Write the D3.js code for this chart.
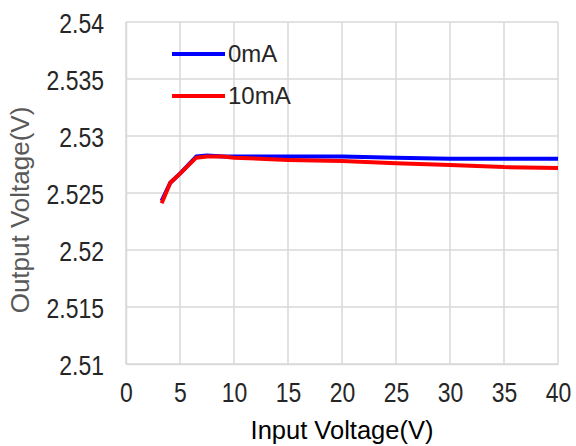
<!DOCTYPE html>
<html><head><meta charset="utf-8">
<script src="https://cdn.jsdelivr.net/npm/d3@7"></script>
<style>body{margin:0;background:#fff}svg{display:block}</style>
</head><body>
<svg id="c" width="576" height="446"></svg>
<script>
const xTicks = [0,5,10,15,20,25,30,35,40];
const yTicks = [2.51,2.515,2.52,2.525,2.53,2.535,2.54];
const seriesNames = ["0mA","10mA"];
const seriesColors = ["#0000ff","#ff0000"];
const xVin0 = [3.3,4.1,5,6.5,7.5,9,10,15,20,25,30,35,40];
const vout0 = [2.5243,2.5259,2.5267,2.5282,2.5283,2.5282,2.5282,2.5282,2.5282,2.5281,2.5280,2.5280,2.5280];
const xVin1 = [3.3,4.1,5,6.5,7.5,9,10,15,20,25,30,35,40];
const vout1 = [2.5241,2.5259,2.5267,2.5281,2.5282,2.5282,2.5281,2.5279,2.5278,2.5276,2.52745,2.52727,2.5272];

const svg = d3.select("#c");
const L=126,R=558,T=22,B=364;
const x = d3.scaleLinear().domain([0,40]).range([L,R]);
const y = d3.scaleLinear().domain([2.51,2.54]).range([B,T]);
const tickFont = "Liberation Sans, Arial, sans-serif";
const titleFont = "Liberation Sans, Arial, sans-serif";
const squeeze = 0.82;

// grid
svg.append("g").selectAll("line").data(xTicks).join("line")
  .attr("x1",d=>x(d)).attr("x2",d=>x(d)).attr("y1",T).attr("y2",B)
  .attr("stroke","#d9d9d9").attr("stroke-width",1.5);
svg.append("g").selectAll("line").data(yTicks).join("line")
  .attr("x1",L).attr("x2",R).attr("y1",d=>y(d)).attr("y2",d=>y(d))
  .attr("stroke","#d9d9d9").attr("stroke-width",1.5);

// axes
const yAxis = svg.append("g").attr("transform",`translate(${L},0)`)
  .call(d3.axisLeft(y).tickValues(yTicks).tickSize(0).tickPadding(22).tickFormat(d=>String(+d.toFixed(3))));
yAxis.select(".domain").attr("stroke","#d9d9d9").attr("stroke-width",1.5);
yAxis.selectAll(".tick text").attr("font-family",tickFont).attr("font-size",28).attr("fill","#262626")
  .attr("x",0).attr("dy","0.37em").attr("transform",`translate(-22,0) scale(${squeeze},1)`);
const xAxis = svg.append("g").attr("transform",`translate(0,${B})`)
  .call(d3.axisBottom(x).tickValues(xTicks).tickSize(0).tickPadding(18.5).tickFormat(d3.format("d")));
xAxis.select(".domain").attr("stroke","#d9d9d9").attr("stroke-width",1.5);
xAxis.selectAll(".tick text").attr("font-family",tickFont).attr("font-size",28).attr("fill","#262626")
  .attr("transform",`scale(${squeeze},1)`);

// titles
svg.append("text").attr("x",342).attr("y",439).attr("text-anchor","middle")
  .attr("font-family",titleFont).attr("font-size",25.5).attr("fill","#000").text("Input Voltage(V)");
svg.append("text").attr("transform","translate(29,210) rotate(-90)").attr("text-anchor","middle")
  .attr("font-family",titleFont).attr("font-size",26).attr("fill","#595959").text("Output Voltage(V)");

// lines
const data = [xVin0.map((v,i)=>[v,vout0[i]]), xVin1.map((v,i)=>[v,vout1[i]])];
const line = d3.line().x(d=>x(d[0])).y(d=>y(d[1]));
data.forEach((s,i)=>{
  svg.append("path").datum(s).attr("d",line).attr("fill","none")
    .attr("stroke",seriesColors[i]).attr("stroke-width",4).attr("stroke-linejoin","round");
});

// legend
const leg = svg.append("g");
seriesNames.forEach((n,i)=>{
  const ly = 54 + i*42;
  leg.append("line").attr("x1",172).attr("x2",225).attr("y1",ly).attr("y2",ly)
    .attr("stroke",seriesColors[i]).attr("stroke-width",4);
  leg.append("text").attr("x",228).attr("y",ly).attr("dy","0.35em")
    .attr("font-family",titleFont).attr("font-size",24).attr("fill","#262626").text(n);
});
</script>
</body></html>
